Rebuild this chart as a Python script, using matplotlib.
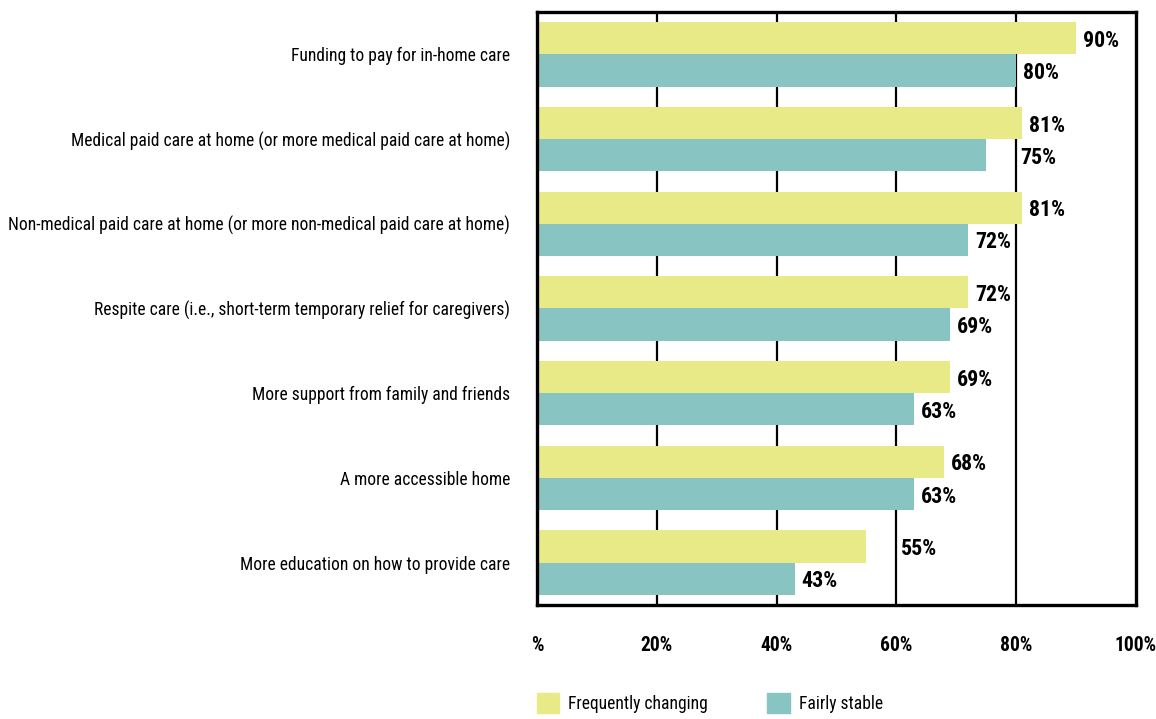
import matplotlib.pyplot as plt
import numpy as np
from matplotlib.patches import Patch
from matplotlib import font_manager

categories = [
    "Funding to pay for in-home care",
    "Medical paid care at home (or more medical paid care at home)",
    "Non-medical paid care at home (or more non-medical paid care at home)",
    "Respite care (i.e., short-term temporary relief for caregivers)",
    "More support from family and friends",
    "A more accessible home",
    "More education on how to provide care",
]
frequently_changing = [90, 81, 81, 72, 69, 68, 55]
fairly_stable = [80, 75, 72, 69, 63, 63, 43]
tick_values = [0, 20, 40, 60, 80, 100]
tick_labels = ["%", "20%", "40%", "60%", "80%", "100%"]

yellow = "#E8EA88"
teal = "#88C4C1"

# pick a narrow face if one is installed
entries = font_manager.fontManager.ttflist
family, stretch = "DejaVu Sans", "normal"
for fam, st in [("Roboto Condensed", "normal"), ("Liberation Sans Narrow", "normal"),
                ("DejaVu Sans", "condensed"), ("Open Sans", "condensed"),
                ("Open Sans Condensed", "normal"), ("Noto Sans", "condensed"),
                ("Roboto", "condensed")]:
    if any(e.name == fam and (st == "normal" or e.stretch in ("condensed", "semi-condensed", "extra-condensed", 87.5, 75)) for e in entries):
        family, stretch = fam, st
        break
plt.rcParams['font.family'] = [family, 'DejaVu Sans']
plt.rcParams['font.stretch'] = stretch

fig = plt.figure(figsize=(11.56, 7.19), dpi=100)
renderer = fig.canvas.get_renderer()

# size the text so the longest category label spans about 502 px like the original
probe = fig.text(0, 0, categories[2], fontsize=15)
w = probe.get_window_extent(renderer).width
probe.remove()
fs = min(15, 15 * 502 / w)
fs_bold = fs * 1.25
fs_tick = fs * 1.12

ax = fig.add_axes([0.4645, 0.1586, 0.5182, 0.8247])

y = np.arange(len(categories))
h = 0.38
ax.barh(y - h / 2, frequently_changing, height=h, color=yellow, zorder=2)
ax.barh(y + h / 2, fairly_stable, height=h, color=teal, zorder=2)

ax.set_xlim(0, 100)
ax.set_ylim(len(categories) - 0.5, -0.5)

for x in tick_values[1:-1]:
    ax.axvline(x, color="black", lw=1.6, zorder=1)

# value labels, nudged past a gridline when they would sit on it
def place(v):
    start = v + 1.1
    for g in tick_values[1:-1]:
        if start < g + 0.5 and start + 6 > g:
            return g + 0.7
    return start

for i in range(len(categories)):
    for v, off in [(frequently_changing[i], -h / 2), (fairly_stable[i], h / 2)]:
        ax.text(place(v), y[i] + off + 0.03, f"{v}%", va="center", ha="left",
                fontsize=fs_bold, fontweight="bold", zorder=3)

ax.set_yticks(y)
ax.set_yticklabels(categories, fontsize=fs)
ax.tick_params(axis="y", length=0, pad=19.5)
ax.set_xticks(tick_values)
ax.set_xticklabels(tick_labels, fontsize=fs_tick, fontweight="bold")
ax.tick_params(axis="x", length=0, pad=22)

for s in ax.spines.values():
    s.set_linewidth(2.4)
    s.set_color("black")

handles = [Patch(color=yellow, label="Frequently changing"),
           Patch(color=teal, label="Fairly stable")]
fig.legend(handles=handles, loc="center left", bbox_to_anchor=(0.4505, 0.022),
           ncol=2, frameon=False, fontsize=fs, handlelength=1.3, handleheight=1.3,
           columnspacing=3.4, handletextpad=0.5)

fig.savefig("out.png", dpi=100)
